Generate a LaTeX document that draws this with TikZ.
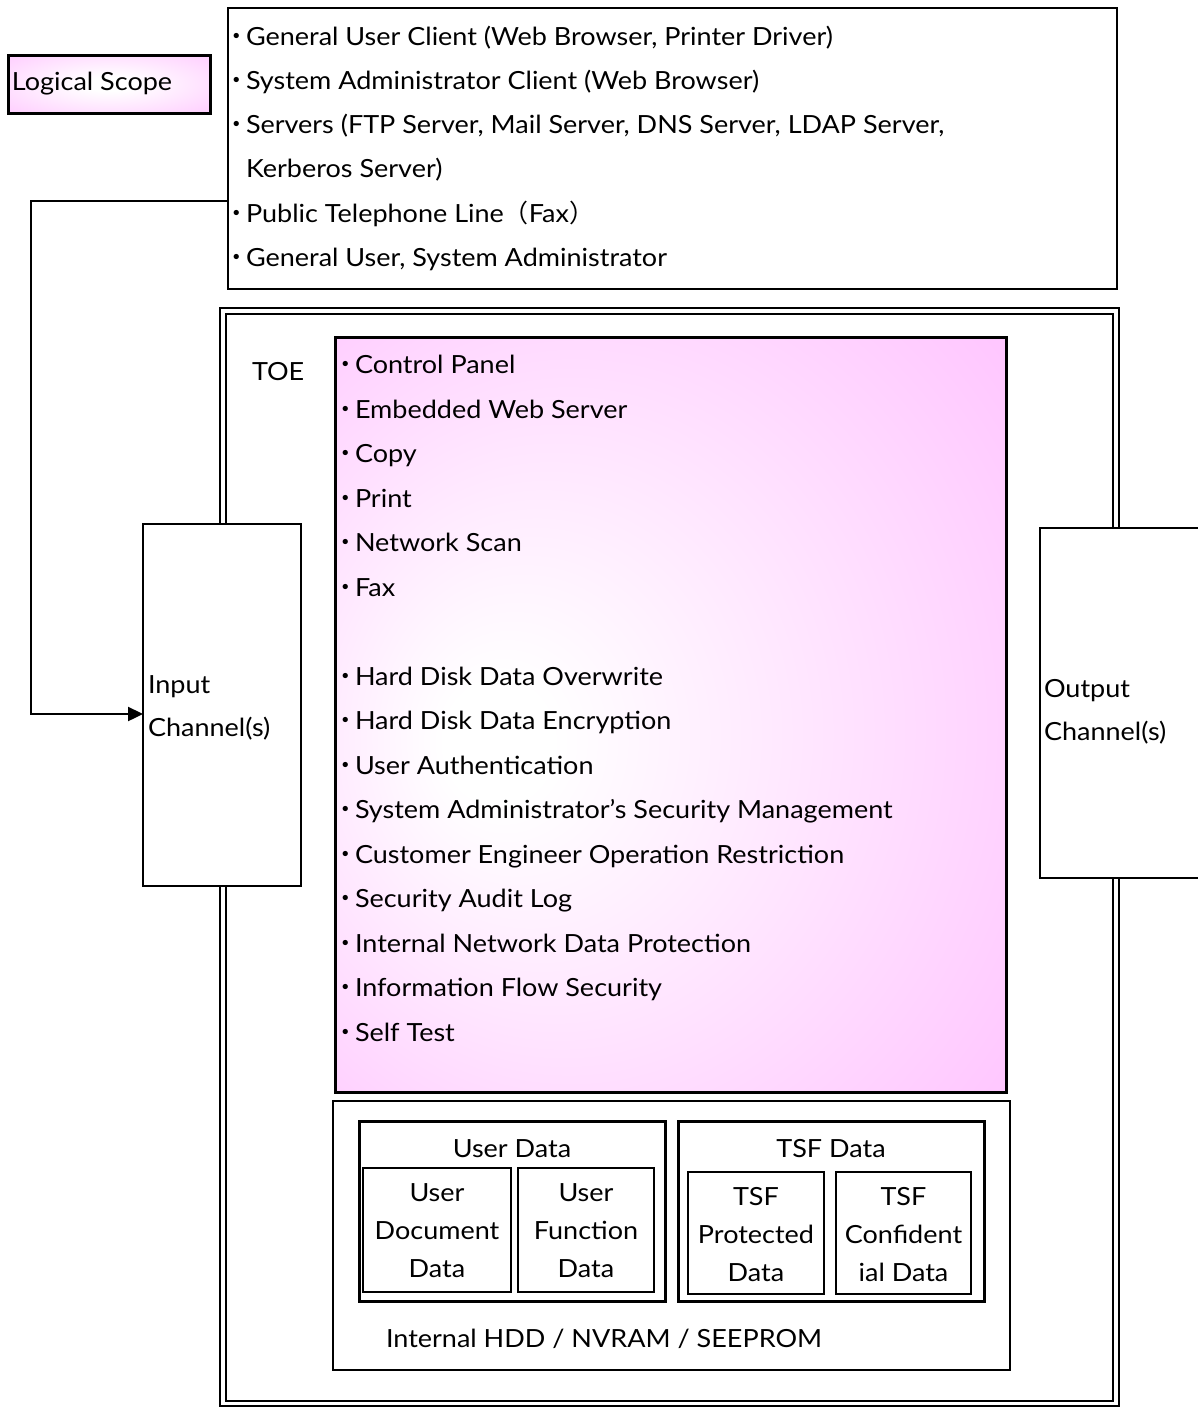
\documentclass[tikz,border=0pt]{standalone}
\usepackage{fontspec}
\setmainfont{Lato}[FakeStretch=1.08]
\newfontfamily\cjkf{Noto Sans CJK JP}
\usetikzlibrary{arrows.meta}
\definecolor{pinkc}{RGB}{255,198,255}
\pgfdeclareradialshading{pinkglow}{\pgfpoint{-14bp}{-2bp}}{color(0bp)=(white); color(4bp)=(white); color(38bp)=(pinkc); color(50bp)=(pinkc)}
\pgfdeclareradialshading{pinkglowc}{\pgfpoint{0bp}{0bp}}{color(0bp)=(white); color(6bp)=(white); color(40bp)=(pinkc); color(50bp)=(pinkc)}
\newcommand{\bul}{\makebox[18pt][c]{\cjkf\bfseries ･}}
\begin{document}
\begin{tikzpicture}[x=1pt,y=-1pt,
  font=\fontsize{25}{38}\selectfont,
  box/.style={draw,line width=1.3pt,fill=white,inner sep=0pt,outer sep=0pt,anchor=north west},
  thickbox/.style={box,line width=3pt},
  txt/.style={inner sep=0pt,outer sep=0pt,anchor=base west},
  ctxt/.style={inner sep=0pt,outer sep=0pt,anchor=base,align=center},
  conn/.style={line width=2.4pt,-{Triangle[length=15pt,width=14pt]}}]
\useasboundingbox (0,0) rectangle (1197,1408);

% Logical scope
\node[thickbox,shade,shading=pinkglowc,minimum width=202pt,minimum height=58pt] (ls) at (8,55) {};
\node[txt] (lsT) at (12,90) {Logical Scope};

% top box
\node[box,minimum width=889pt,minimum height=281pt] (top) at (228,8) {};
\node[txt] (t1) at (228,45) {\bul General User Client (Web Browser, Printer Driver)};
\node[txt] (t2) at (228,89.3) {\bul System Administrator Client (Web Browser)};
\node[txt] (t3) at (228,133.6) {\bul Servers (FTP Server, Mail Server, DNS Server, LDAP Server,};
\node[txt] (t4) at (246,177.9) {Kerberos Server)};
\node[txt] (t5) at (228,222.2) {\bul Public Telephone Line{\cjkf （}Fax{\cjkf ）}};
\node[txt] (t6) at (228,266.5) {\bul General User, System Administrator};

% TOE frame
\node[box,fill=none,minimum width=899pt,minimum height=1098pt] (toeO) at (220,308) {};
\node[box,fill=none,minimum width=887pt,minimum height=1087pt] (toeI) at (226,314) {};
\node[txt] (toeT) at (252,380) {TOE};

% input / output
\node[box,minimum width=158pt,minimum height=362pt] (in) at (143,524) {};
\node[txt] (inT1) at (148,693) {Input};
\node[txt] (inT2) at (148,736) {Channel(s)};
\node[box,minimum width=170pt,minimum height=350pt] (out) at (1040,528) {};
\node[txt] (outT1) at (1044,697) {Output};
\node[txt] (outT2) at (1044,740) {Channel(s)};

% connector
\coordinate (cs) at (228,201);
\coordinate (ce) at (143,714);
\draw[conn] (cs) -- (31,201) |- (ce);

% pink function box
\node[thickbox,shade,shading=pinkglow,minimum width=671pt,minimum height=755pt] (fn) at (335,337) {};
\foreach \i/\t in {0/Control Panel,1/Embedded Web Server,2/Copy,3/Print,4/Network Scan,5/Fax,
  7/Hard Disk Data Overwrite,8/Hard Disk Data Encryption,9/User Authentication,
  10/System Administrator’s Security Management,11/Customer Engineer Operation Restriction,
  12/Security Audit Log,13/Internal Network Data Protection,14/Information Flow Security,15/Self Test}
  \node[txt] (f\i) at (337,373.5+44.5*\i) {\bul \t};

% storage
\node[box,minimum width=677pt,minimum height=269pt] (st) at (333,1101) {};
\node[thickbox,minimum width=306pt,minimum height=180pt] (ud) at (359,1121) {};
\node[ctxt] (udT) at (512,1157) {User Data};
\node[box,minimum width=148pt,minimum height=124pt] (udoc) at (363,1168) {};
\node[ctxt] (udocT) at (437,1277) {User\\Document\\Data};
\node[box,minimum width=136pt,minimum height=124pt] (ufun) at (518,1168) {};
\node[ctxt] (ufunT) at (586,1277) {User\\Function\\Data};
\node[thickbox,minimum width=306pt,minimum height=180pt] (td) at (678,1121) {};
\node[ctxt] (tdT) at (831,1157) {TSF Data};
\node[box,minimum width=136pt,minimum height=122pt] (tp) at (688,1172) {};
\node[ctxt] (tpT) at (756,1281) {TSF\\Protected\\Data};
\node[box,minimum width=135pt,minimum height=122pt] (tc) at (836,1172) {};
\node[ctxt] (tcT) at (903.5,1281) {TSF\\Confident\\ial Data};
\node[txt] (stT) at (386,1347) {Internal HDD / NVRAM / SEEPROM};
\end{tikzpicture}
\end{document}
